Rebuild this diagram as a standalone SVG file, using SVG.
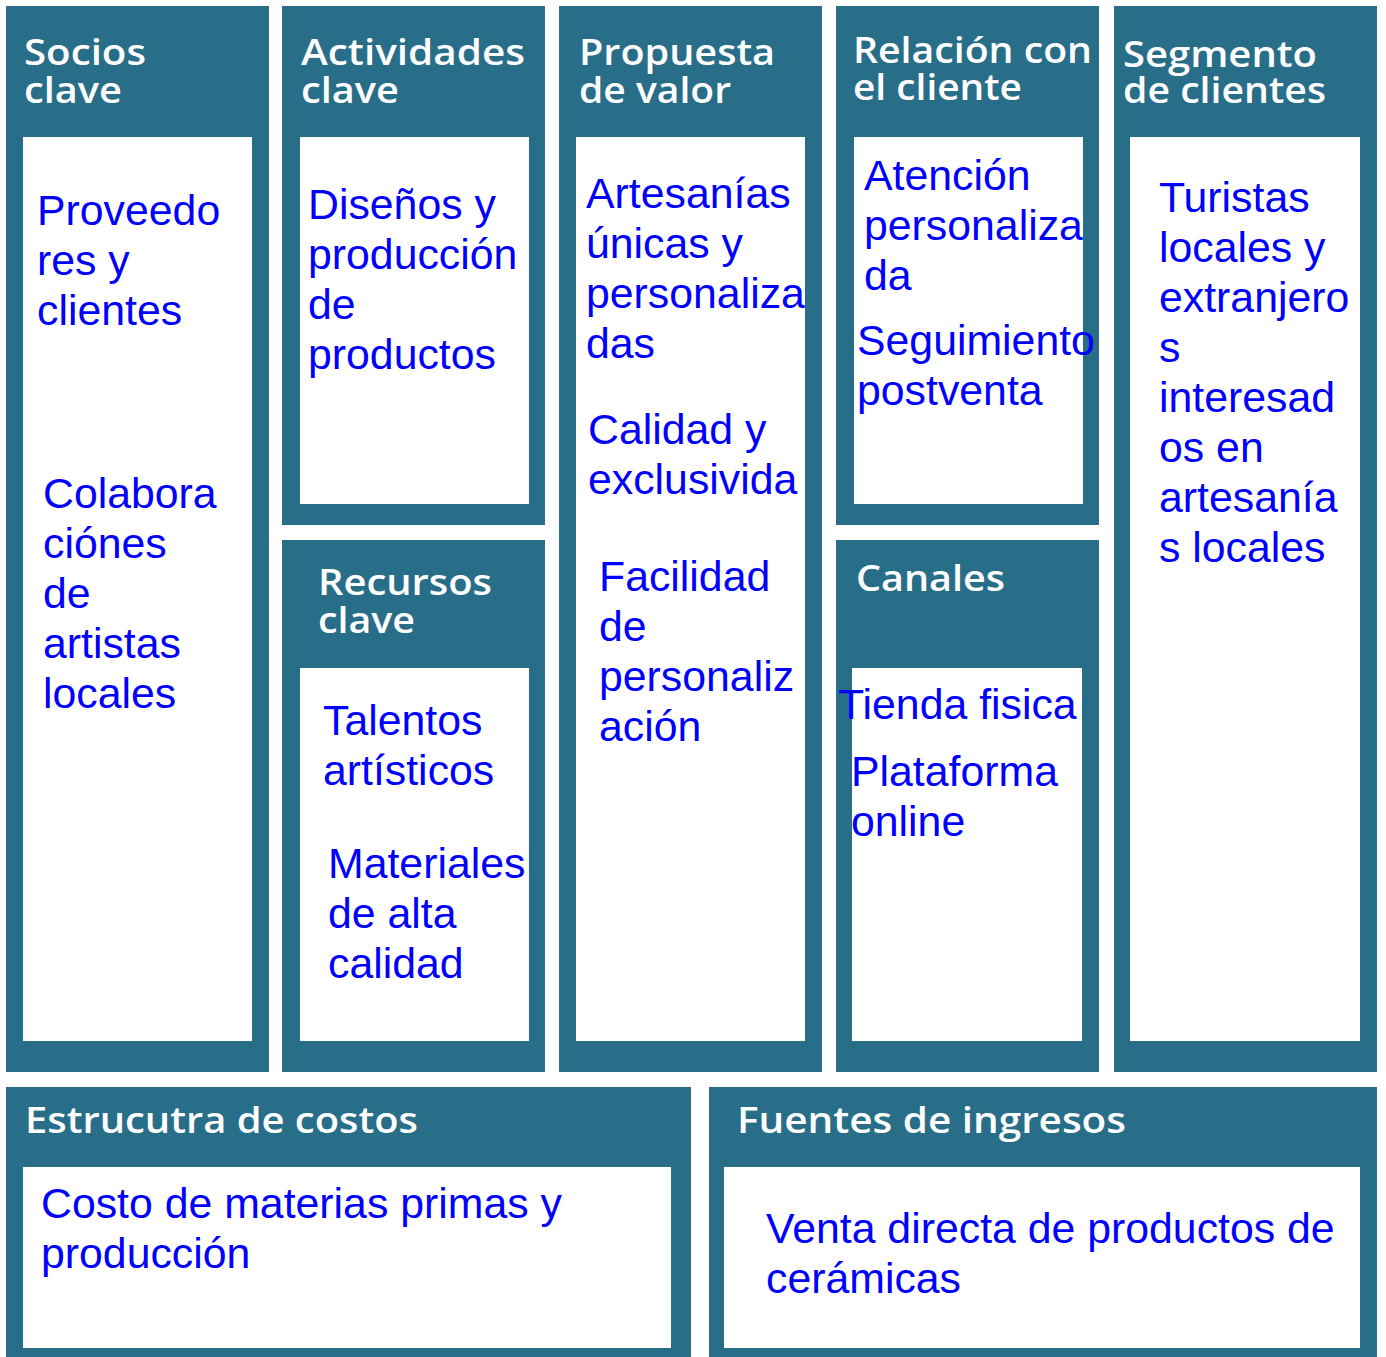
<svg xmlns="http://www.w3.org/2000/svg" width="1386" height="1357" viewBox="0 0 1386 1357">
<style>
.box{fill:#286E89}
.in{fill:#ffffff}
.t{font-family:"Open Sans","DejaVu Sans",sans-serif;font-weight:600;font-size:36px;fill:#ffffff}
.b{font-family:"Liberation Sans",Arial,sans-serif;font-size:42.8px;fill:#0000FF}
</style>
<rect width="1386" height="1357" fill="#ffffff"/>
<g id="socios">
<rect class="box" x="6" y="6" width="263" height="1066"/>
<rect class="in" x="23" y="137" width="229" height="904"/>
<text class="t" x="24" y="65" textLength="122" lengthAdjust="spacingAndGlyphs">Socios</text>
<text class="t" x="24" y="103" textLength="98" lengthAdjust="spacingAndGlyphs">clave</text>
<text class="b"><tspan x="37" y="225">Proveedo</tspan><tspan x="37" y="275">res y</tspan><tspan x="37" y="325">clientes</tspan></text>
<text class="b"><tspan x="43" y="508">Colabora</tspan><tspan x="43" y="558">ciónes</tspan><tspan x="43" y="608">de</tspan><tspan x="43" y="658">artistas</tspan><tspan x="43" y="708">locales</tspan></text>
</g>
<g id="actividades">
<rect class="box" x="282" y="6" width="263" height="519"/>
<rect class="in" x="300" y="137" width="229" height="367"/>
<text class="t" x="301" y="65" textLength="224" lengthAdjust="spacingAndGlyphs">Actividades</text>
<text class="t" x="301" y="103" textLength="98" lengthAdjust="spacingAndGlyphs">clave</text>
<text class="b"><tspan x="308" y="219">Diseños y</tspan><tspan x="308" y="269">producción</tspan><tspan x="308" y="319">de</tspan><tspan x="308" y="369">productos</tspan></text>
</g>
<g id="recursos">
<rect class="box" x="282" y="540" width="263" height="532"/>
<rect class="in" x="300" y="668" width="229" height="373"/>
<text class="t" x="318" y="595" textLength="174" lengthAdjust="spacingAndGlyphs">Recursos</text>
<text class="t" x="318" y="633" textLength="97" lengthAdjust="spacingAndGlyphs">clave</text>
<text class="b"><tspan x="323" y="735">Talentos</tspan><tspan x="323" y="785">artísticos</tspan></text>
<text class="b"><tspan x="328" y="878">Materiales</tspan><tspan x="328" y="928">de alta</tspan><tspan x="328" y="978">calidad</tspan></text>
</g>
<g id="propuesta">
<rect class="box" x="559" y="6" width="263" height="1066"/>
<rect class="in" x="576" y="137" width="229" height="904"/>
<text class="t" x="579" y="65" textLength="196" lengthAdjust="spacingAndGlyphs">Propuesta</text>
<text class="t" x="579" y="103" textLength="152" lengthAdjust="spacingAndGlyphs">de valor</text>
<text class="b"><tspan x="586" y="208">Artesanías</tspan><tspan x="586" y="258">únicas y</tspan><tspan x="586" y="308">personaliza</tspan><tspan x="586" y="358">das</tspan></text>
<text class="b"><tspan x="588" y="444">Calidad y</tspan><tspan x="588" y="494">exclusivida</tspan></text>
<text class="b"><tspan x="599" y="591">Facilidad</tspan><tspan x="599" y="641">de</tspan><tspan x="599" y="691">personaliz</tspan><tspan x="599" y="741">ación</tspan></text>
</g>
<g id="relacion">
<rect class="box" x="836" y="6" width="263" height="519"/>
<rect class="in" x="854" y="137" width="229" height="367"/>
<text class="t" x="853" y="63" textLength="239" lengthAdjust="spacingAndGlyphs">Relación con</text>
<text class="t" x="853" y="100" textLength="169" lengthAdjust="spacingAndGlyphs">el cliente</text>
<text class="b"><tspan x="864" y="190">Atención</tspan><tspan x="864" y="240">personaliza</tspan><tspan x="864" y="290">da</tspan></text>
<text class="b"><tspan x="857" y="355">Seguimiento</tspan><tspan x="857" y="405">postventa</tspan></text>
</g>
<g id="canales">
<rect class="box" x="836" y="540" width="263" height="532"/>
<rect class="in" x="852" y="668" width="230" height="373"/>
<text class="t" x="856" y="591" textLength="149" lengthAdjust="spacingAndGlyphs">Canales</text>
<text class="b" x="838" y="719">Tienda fisica</text>
<text class="b"><tspan x="851" y="786">Plataforma</tspan><tspan x="851" y="836">online</tspan></text>
</g>
<g id="segmento">
<rect class="box" x="1114" y="6" width="263" height="1066"/>
<rect class="in" x="1130" y="137" width="230" height="904"/>
<text class="t" x="1123" y="67" textLength="194" lengthAdjust="spacingAndGlyphs">Segmento</text>
<text class="t" x="1123" y="103" textLength="203" lengthAdjust="spacingAndGlyphs">de clientes</text>
<text class="b"><tspan x="1159" y="212">Turistas</tspan><tspan x="1159" y="262">locales y</tspan><tspan x="1159" y="312">extranjero</tspan><tspan x="1159" y="362">s</tspan><tspan x="1159" y="412">interesad</tspan><tspan x="1159" y="462">os en</tspan><tspan x="1159" y="512">artesanía</tspan><tspan x="1159" y="562">s locales</tspan></text>
</g>
<g id="estructura">
<rect class="box" x="6" y="1087" width="685" height="270"/>
<rect class="in" x="23" y="1167" width="648" height="181"/>
<text class="t" x="25" y="1133" textLength="393" lengthAdjust="spacingAndGlyphs">Estrucutra de costos</text>
<text class="b"><tspan x="41" y="1218">Costo de materias primas y</tspan><tspan x="41" y="1268">producción</tspan></text>
</g>
<g id="fuentes">
<rect class="box" x="709" y="1087" width="668" height="270"/>
<rect class="in" x="724" y="1167" width="636" height="181"/>
<text class="t" x="737" y="1133" textLength="389" lengthAdjust="spacingAndGlyphs">Fuentes de ingresos</text>
<text class="b"><tspan x="766" y="1243">Venta directa de productos de</tspan><tspan x="766" y="1293">cerámicas</tspan></text>
</g>
<g id="connectors"/>
</svg>
